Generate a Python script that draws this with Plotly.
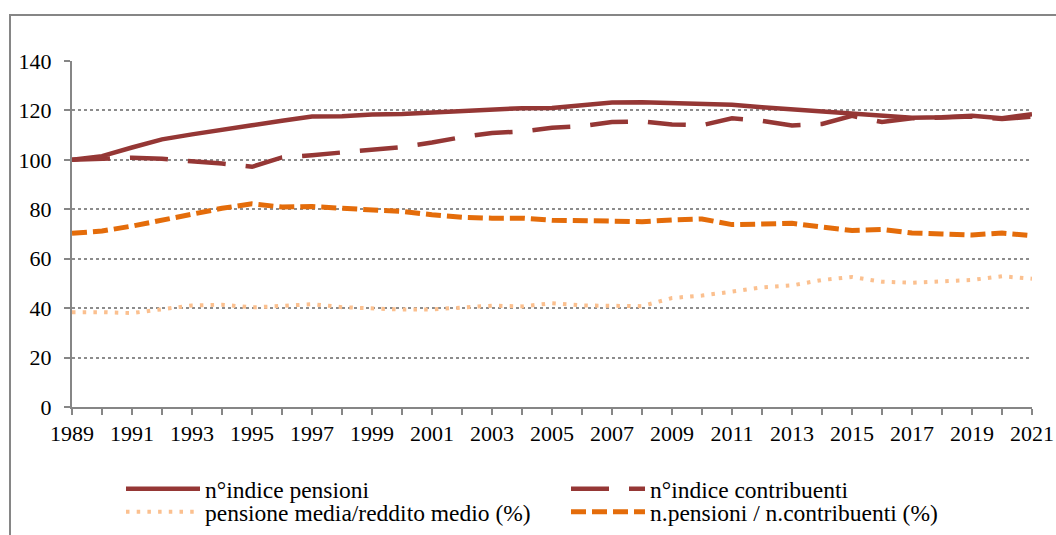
import plotly.graph_objects as go

years = list(range(1989, 2022))

indice_pensioni = [100, 101.5, 105, 108.3, 110.3, 112.3, 114, 115.8, 117.5, 117.6,
                   118.4, 118.6, 119.2, 119.8, 120.3, 120.9, 121, 122.3, 123.2, 123.3,
                   123, 122.7, 122.3, 121.3, 120.5, 119.6, 118.8, 117.8, 117, 117.2,
                   117.8, 116.8, 118.5]

indice_contribuenti = [100, 100.5, 100.9, 100.4, 99.6, 98.5, 97.2, 101, 101.9, 103.1,
                       104.2, 105.2, 107, 109.2, 110.9, 111.5, 113, 113.6, 115.3, 115.6,
                       114.3, 114, 116.8, 115.8, 113.9, 114.5, 117.8, 115.3, 116.8, 117,
                       117.5, 116.5, 117.5]

pensione_reddito = [38.3, 38.4, 38.0, 39.4, 41.1, 41.4, 40.3, 40.9, 41.6, 40.4,
                    39.9, 39.4, 39.5, 40.4, 41.0, 40.7, 42.0, 41.1, 41.1, 40.8,
                    44.1, 45.1, 46.7, 48.4, 49.2, 51.4, 52.6, 50.7, 50.3, 50.7,
                    51.4, 52.9, 51.9]

pensioni_contribuenti = [70.3, 71.2, 73.2, 75.7, 78.4, 80.4, 82.2, 80.9, 81.1, 80.4,
                         80, 79.1, 77.8, 76.8, 76.4, 76.4, 75.6, 75.4, 75.3, 75,
                         75.7, 76.1, 73.8, 74, 74.3, 72.8, 71.4, 71.8, 70.4, 70,
                         69.6, 70.4, 69.3]

y_ticks = [0, 20, 40, 60, 80, 100, 120, 140]

C_DARK = "#953735"
C_ORANGE = "#E46C0A"
C_PALE = "#FBC08F"
GREY = "#868686"
FONT = "Liberation Serif"

fig = go.Figure()
fig.add_trace(go.Scatter(x=years, y=pensione_reddito, mode="lines",
                         name="pensione media/reddito medio (%)",
                         line=dict(color=C_PALE, width=4, dash="3.5px,7.2px"),
                         legend="legend2", legendrank=1))
fig.add_trace(go.Scatter(x=years, y=pensioni_contribuenti, mode="lines",
                         name="n.pensioni / n.contribuenti (%)",
                         line=dict(color=C_ORANGE, width=5, dash="15px,6px"),
                         legend="legend2", legendrank=2))
fig.add_trace(go.Scatter(x=years, y=indice_contribuenti, mode="lines",
                         name="n°indice contribuenti",
                         line=dict(color=C_DARK, width=4.5, dash="38px,20px"),
                         legend="legend", legendrank=2))
fig.add_trace(go.Scatter(x=years, y=indice_pensioni, mode="lines",
                         name="n°indice pensioni",
                         line=dict(color=C_DARK, width=4.5),
                         legend="legend", legendrank=1))

L, R, T, B = 72, 24, 61, 128
W, H = 1056, 535
pw, ph = W - L - R, H - T - B

def px_x(px):
    return (px - L) / pw

def px_y(py):
    return (H - B - py) / ph

legend_common = dict(orientation="h", font=dict(family=FONT, size=23.5, color="black"),
                     bgcolor="rgba(0,0,0,0)", itemwidth=74, entrywidth=356,
                     traceorder="normal", xanchor="left", yanchor="middle",
                     itemclick=False)

fig.update_layout(
    width=W, height=H,
    margin=dict(l=L, r=R, t=T, b=B, autoexpand=False),
    paper_bgcolor="white", plot_bgcolor="white",
    font=dict(family=FONT, size=22, color="black"),
    legend=dict(x=px_x(121), y=px_y(489), **legend_common),
    legend2=dict(x=px_x(121), y=px_y(512), **legend_common),
    xaxis=dict(range=[1989, 2021], tick0=1989, dtick=2, ticks="outside", ticklen=6,
               tickwidth=2, tickcolor=GREY, showline=True, linecolor=GREY, linewidth=2,
               showgrid=False, zeroline=False, tickfont=dict(family=FONT, size=22),
               minor=dict(dtick=1, ticks="outside", ticklen=6, tickwidth=2,
                          tickcolor=GREY, showgrid=False)),
    yaxis=dict(range=[0, 140], tickvals=y_ticks, ticks="outside", ticklen=6,
               tickwidth=2, tickcolor=GREY, showline=True, linecolor=GREY, linewidth=2,
               showgrid=True, gridcolor="#8c8c8c", gridwidth=1.5, griddash="dot",
               zeroline=False, tickfont=dict(family=FONT, size=22),
               ticklabelstandoff=8),
    shapes=[dict(type="rect", xref="paper", yref="paper",
                 x0=px_x(10), x1=px_x(1100), y0=px_y(600), y1=px_y(15),
                 line=dict(color=GREY, width=2), layer="below")],
)

fig.write_html("out.html", config={"displayModeBar": False},
               post_script="document.body.style.margin='0';")
